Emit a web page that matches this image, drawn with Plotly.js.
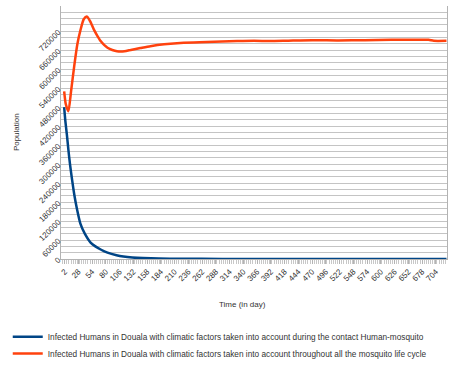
<!DOCTYPE html>
<html>
<head>
<meta charset="utf-8">
<script src="https://cdn.plot.ly/plotly-3.0.1.min.js"></script>
<style>html,body{margin:0;padding:0;background:#fff;}#chart{width:456px;height:365px;}</style>
</head>
<body>
<div id="chart"></div>
<script>
// Days (x) and infected humans (y)
const blueDays = [1, 3, 6, 9, 12, 16, 20, 25, 32, 40, 51, 60, 70, 83, 100, 113, 130, 150, 180, 220, 300, 400, 500, 600, 724];
const blueVals = [480000, 440000, 395000, 345000, 300000, 250000, 205000, 160000, 110000, 80000, 52000, 40000, 30000, 20000, 12000, 8000, 5000, 3000, 1500, 800, 300, 100, 50, 20, 10];

const orangeDays = [1, 4, 9, 14, 20, 26, 32, 38, 44, 50, 57, 64, 70, 77, 83, 92, 101, 115, 127, 145, 164, 190, 227, 271, 328, 360, 390, 420, 470, 520, 570, 620, 660, 690, 700, 724];
const orangeVals = [530000, 490000, 467000, 530000, 610000, 680000, 725000, 758000, 767000, 752000, 726000, 705000, 689000, 676000, 668000, 661000, 657000, 657000, 661000, 667000, 673000, 679000, 684000, 686000, 689000, 690000, 689000, 690000, 692000, 691000, 692000, 693000, 693000, 693000, 690000, 690000];

const seriesNames = [
  "Infected Humans in Douala with climatic factors taken into account during the contact Human-mosquito",
  "Infected Humans in Douala with climatic factors taken into account throughout all the mosquito life cycle"
];

const xTickVals = [2, 28, 54, 80, 106, 132, 158, 184, 210, 236, 262, 288, 314, 340, 366, 392, 418, 444, 470, 496, 522, 548, 574, 600, 626, 652, 678, 704];
const yTickVals = [0, 60000, 120000, 180000, 240000, 300000, 360000, 420000, 480000, 540000, 600000, 660000, 720000];

const traces = [
  {x: blueDays, y: blueVals, name: seriesNames[0], type: 'scatter', mode: 'lines', legend: 'legend',
   line: {color: '#004586', width: 2.5, shape: 'spline', smoothing: 0.6}},
  {x: orangeDays, y: orangeVals, name: seriesNames[1], type: 'scatter', mode: 'lines', legend: 'legend2',
   line: {color: '#ff420e', width: 2.5, shape: 'spline', smoothing: 0.6}}
];

const legendBase = {
  orientation: 'v', xref: 'container', yref: 'container',
  x: 0.017, xanchor: 'left', yanchor: 'top', bgcolor: 'rgba(0,0,0,0)',
  font: {size: 8.25, color: '#333'}, itemwidth: 30
};

const layout = {
  width: 456, height: 365,
  margin: {l: 61, r: 9, t: 6, b: 106, autoexpand: false},
  paper_bgcolor: '#fff', plot_bgcolor: '#fff',
  font: {family: 'Liberation Sans, Arial, sans-serif', size: 8, color: '#333'},
  showlegend: true,
  legend: Object.assign({}, legendBase, {y: 0.117}),
  legend2: Object.assign({}, legendBase, {y: 0.071}),
  xaxis: {
    range: [-5, 725], tickmode: 'array', tickvals: xTickVals, ticktext: xTickVals.map(String),
    tickangle: -45, showgrid: false, zeroline: false,
    showline: true, linecolor: '#b3b3b3', linewidth: 1,
    ticks: 'outside', ticklen: 4, tickcolor: '#b3b3b3',
    minor: {dtick: 4, tick0: 2, ticks: 'outside', ticklen: 4, tickcolor: '#c8c8c8', showgrid: false},
    tickfont: {size: 8, color: '#333'}
  },
  yaxis: {
    range: [0, 800000], tickmode: 'array', tickvals: yTickVals, ticktext: yTickVals.map(String),
    tickangle: -45, showgrid: true, gridcolor: '#c4c4c4', gridwidth: 1, zeroline: false,
    showline: true, mirror: true, linecolor: '#b3b3b3', linewidth: 1,
    ticks: '', tickfont: {size: 8, color: '#333'},
    minor: {dtick: 20000, showgrid: true, gridcolor: '#c4c4c4', gridwidth: 1}
  },
  annotations: [
    {text: 'Time (in day)', xref: 'paper', yref: 'paper', x: 0.47, y: -0.155, yanchor: 'top',
     xanchor: 'center', showarrow: false, font: {size: 8, color: '#333'}},
    {text: 'Population', xref: 'paper', yref: 'paper', x: -0.115, y: 0.5, textangle: -90,
     xanchor: 'center', yanchor: 'middle', showarrow: false, font: {size: 8, color: '#333'}}
  ]
};

Plotly.newPlot('chart', traces, layout, {displayModeBar: false, staticPlot: true});
</script>
</body>
</html>
